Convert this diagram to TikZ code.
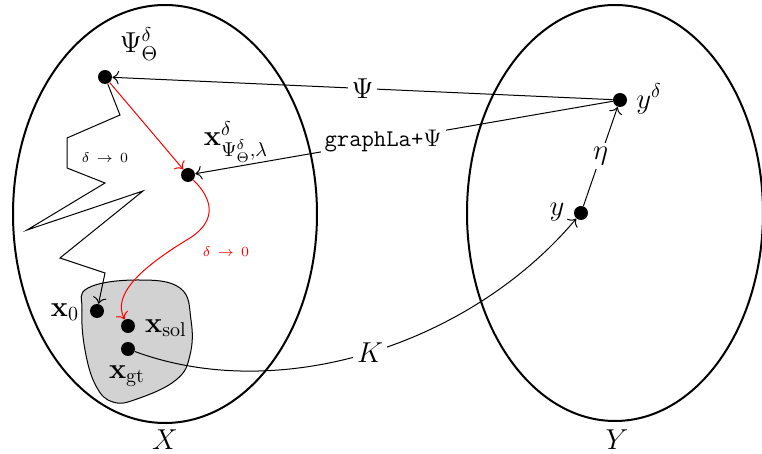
\documentclass[12pt,tikz,border=0pt]{standalone}
\usepackage{amsmath}
\usetikzlibrary{arrows.meta}
\begin{document}
\begin{tikzpicture}[x=0.5pt,y=-0.5pt,
  >={To[scale=1.2]},
  dot/.style={circle,fill=black,inner sep=0pt,minimum size=7pt},
  conn/.style={->,line width=0.5pt},
  redconn/.style={->,red,line width=0.5pt},
  lbl/.style={fill=white,inner sep=2pt,font=\large},
  txt/.style={inner sep=1pt,font=\large},
  small/.style={inner sep=1pt,font=\fontsize{7}{8}\selectfont},
  setline/.style={line width=1pt}]
\useasboundingbox (0,0) rectangle (762,454);
% sets
\draw[setline] (165,214) ellipse [x radius=76pt, y radius=104.5pt];
\draw[setline] (615,213) ellipse [x radius=74pt, y radius=104pt];
\filldraw[fill=gray!35, draw=black, line width=0.5pt] plot[smooth cycle, tension=0.7] coordinates
  {(82,310) (88,288) (137,280) (180,288) (191,320) (190,355) (176,380) (137,399) (113,402) (96,386) (85,350)};
% dots
\node[dot] (psi) at (105,77) {};
\node[dot] (xd) at (188,175) {};
\node[dot] (x0) at (97,311) {};
\node[dot] (xsol) at (128,326) {};
\node[dot] (xgt) at (128,349) {};
\node[dot] (yd) at (620,100) {};
\node[dot] (y) at (581,213) {};
% labels
\node[txt] (psil) at (139,44) {$\Psi_\Theta^\delta$};
\node[txt] (xdl) at (236,142) {$\mathbf{x}^\delta_{\Psi^\delta_\Theta,\lambda}$};
\node[txt] (x0l) at (65,312) {$\mathbf{x}_0$};
\node[txt] (xsoll) at (166,328) {$\mathbf{x}_{\mathrm{sol}}$};
\node[txt] (xgtl) at (127,376) {$\mathbf{x}_{\mathrm{gt}}$};
\node[txt] (ydl) at (649,99) {$y^\delta$};
\node[txt] (yl) at (557,212) {$y$};
\node[txt] (Xl) at (165,440) {$X$};
\node[txt] (Yl) at (617,440) {$Y$};
\node[small] (zzl) at (105,158) {$\delta\,\rightarrow\,0$};
\node[small,red] (rl) at (226,252) {$\delta\,\rightarrow\,0$};
% connectors
\draw[conn] (yd) -- node[lbl] {$\Psi$} (psi);
\draw[conn] (yd) -- node[lbl,pos=0.55,font=\normalsize] {\texttt{graphLa+}$\Psi$} (xd);
\draw[conn] (y) -- node[lbl] {$\eta$} (yd);
\draw[conn] (xgt) .. controls (280,405) and (470,345) .. node[lbl] {$K$} (y);
\draw[conn] (psi) -- (120,115) -- (67,138) -- (67,168) -- (105,183) -- (27,230)
  -- (143,191) -- (60,258) -- (105,273) -- (x0);
\draw[redconn] (psi) -- (xd);
\draw[redconn] (xd) .. controls (212,198) and (218,220) .. (190,238)
  .. controls (140,268) and (112,295) .. (xsol);
\end{tikzpicture}
\end{document}
